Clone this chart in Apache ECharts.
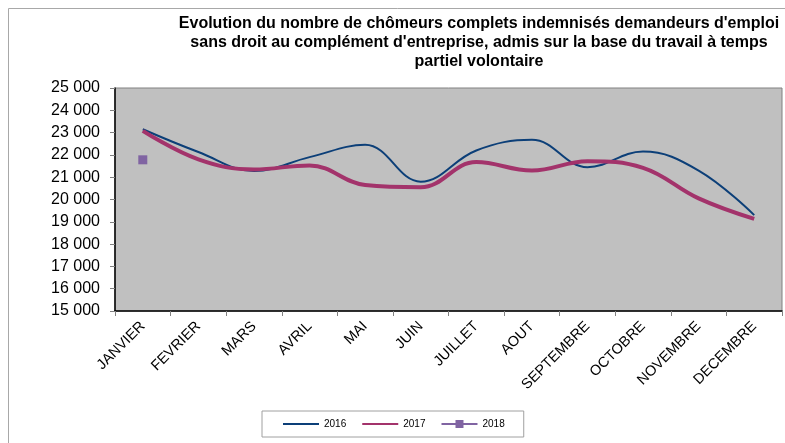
<!DOCTYPE html>
<html>
<head>
<meta charset="utf-8">
<script src="https://cdn.jsdelivr.net/npm/echarts@6/dist/echarts.min.js"></script>
<style>
  html, body { margin: 0; padding: 0; background: #fff; }
  #chart { width: 785px; height: 443px; }
</style>
</head>
<body>
<div id="chart"></div>
<script>
// mois (axe des x)
const months = ['JANVIER', 'FEVRIER', 'MARS', 'AVRIL', 'MAI', 'JUIN', 'JUILLET', 'AOUT',
  'SEPTEMBRE', 'OCTOBRE', 'NOVEMBRE', 'DECEMBRE']

// valeurs
const data2016 = [23150, 22130, 21280, 21900, 22450, 20800, 22200, 22680, 21450, 22150, 21300, 19300]
const data2017 = [23080, 21800, 21350, 21530, 20650, 20550, 21680, 21300, 21720, 21420, 20050, 19130]
const data2018 = [21780, null, null, null, null, null, null, null, null, null, null, null]

const yMin = 15000
const yMax = 25000
const yStep = 1000

const font = 'Liberation Sans, Arial, sans-serif'

let chart = echarts.init(document.getElementById('chart'))

chart.setOption({
  animation: false,
  textStyle: { fontFamily: font },
  title: {
    text: "Evolution du nombre de chômeurs complets indemnisés demandeurs d'emploi\nsans droit au complément d'entreprise, admis sur la base du travail à temps\npartiel volontaire",
    left: 474,
    top: 9,
    textAlign: 'center',
    textStyle: { fontSize: 16, fontWeight: 'bold', color: '#000', lineHeight: 19, fontFamily: font }
  },
  legend: {
    left: 262,
    top: 411,
    padding: [8, 19, 8, 20],
    itemGap: 15,
    itemWidth: 36,
    itemHeight: 10,
    borderColor: '#a0a0a0',
    borderWidth: 1,
    textStyle: { fontSize: 10, color: '#000' },
    data: [
      { name: '2016', itemStyle: { opacity: 0 } },
      { name: '2017', itemStyle: { opacity: 0 } },
      { name: '2018' }
    ]
  },
  graphic: [{
    type: 'rect',
    shape: { x: 8.5, y: 8.5, width: 800, height: 460 },
    style: { fill: 'none', stroke: '#a8a8a8', lineWidth: 1 },
    silent: true,
    z: -1
  }],
  grid: {
    left: 115,
    right: 3,
    top: 88,
    bottom: 132,
    show: true,
    backgroundColor: '#c0c0c0',
    borderColor: '#808080',
    borderWidth: 1
  },
  xAxis: {
    type: 'category',
    data: months,
    boundaryGap: true,
    axisLine: { lineStyle: { color: '#000', width: 1.5 } },
    axisTick: { show: true, length: 5, lineStyle: { color: '#808080' } },
    axisLabel: { rotate: 45, fontSize: 14.5, color: '#000', margin: 13, interval: 0 }
  },
  yAxis: {
    type: 'value',
    min: yMin,
    max: yMax,
    interval: yStep,
    axisLine: { show: true, lineStyle: { color: '#000', width: 1.5 } },
    axisTick: { show: true, length: 5, lineStyle: { color: '#808080' } },
    splitLine: { show: false },
    axisLabel: {
      fontSize: 16,
      color: '#000',
      margin: 15,
      formatter: v => String(v).replace(/\B(?=(\d{3})+(?!\d))/g, ' ')
    }
  },
  series: [
    {
      name: '2016',
      type: 'line',
      data: data2016,
      smooth: 0.4,
      symbol: 'none',
      lineStyle: { color: '#0c3f78', width: 2 },
      itemStyle: { color: '#0c3f78' }
    },
    {
      name: '2017',
      type: 'line',
      data: data2017,
      smooth: 0.4,
      symbol: 'none',
      lineStyle: { color: '#a3336b', width: 4 },
      itemStyle: { color: '#a3336b' }
    },
    {
      name: '2018',
      type: 'line',
      data: data2018,
      symbol: 'rect',
      symbolSize: 9,
      showSymbol: true,
      lineStyle: { color: '#8064a2', width: 3 },
      itemStyle: { color: '#8064a2' }
    }
  ]
})
</script>
</body>
</html>
